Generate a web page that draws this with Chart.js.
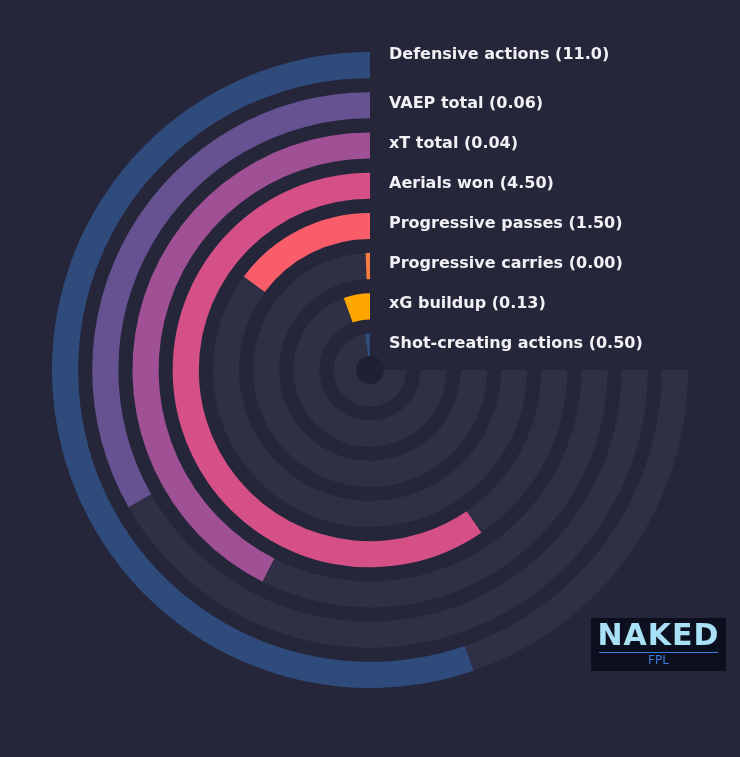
<!DOCTYPE html>
<html><head><meta charset="utf-8">
<script src="https://cdn.jsdelivr.net/npm/chart.js@4"></script>
<style>
html,body{margin:0;padding:0;background:#25263a;}
#wrap{position:relative;width:740px;height:757px;}
#logo{position:absolute;left:591px;top:618px;width:135px;height:53px;background:#0b0f1e;font-family:"DejaVu Sans";text-align:center;}
#logo .a{color:#a8e0f5;font-weight:bold;font-size:30px;line-height:34px;letter-spacing:1px;}
#logo .b{color:#3a7bd5;font-size:12px;line-height:14px;border-top:1px solid #3a7bd5;margin:0 8px;}
</style></head><body>
<div id="wrap"><canvas id="c" width="740" height="757"></canvas>
<div id="logo"><div class="a">NAKED</div><div class="b">FPL</div></div></div>
<script>
const metrics = ["Defensive actions","VAEP total","xT total","Aerials won","Progressive passes","Progressive carries","xG buildup","Shot-creating actions"];
const rawValues = ["11.0","0.06","0.04","4.50","1.50","0.00","0.13","0.50"];
const fractions = [0.737,0.443,0.567,0.794,0.198,0.008,0.074,0.03];
const colors = ["#2f4b7c","#665191","#a05195","#d45087","#f95d6a","#ff7c43","#ffa600","#2f4b7c"];
const labelY = [55,104,144,184,224,264,304,344];
const track = "#2f3045";

const datasets = [];
metrics.forEach((m,i)=>{
  datasets.push({data:[1-fractions[i],fractions[i]],backgroundColor:[track,colors[i]],borderWidth:0,weight:26});
  if(i<metrics.length-1) datasets.push({data:[1],backgroundColor:["rgba(0,0,0,0)"],borderWidth:0,weight:14});
});

const labelPlugin = {
  id:'lbl',
  afterDraw(chart){
    const ctx=chart.ctx;
    ctx.save();
    ctx.fillStyle="#1f2033";
    ctx.beginPath();ctx.arc(370,370,14,0,Math.PI*2);ctx.fill();
    ctx.font="bold 16px 'DejaVu Sans'";
    ctx.fillStyle="#f0f0f5";
    ctx.textBaseline="middle";
    metrics.forEach((m,i)=>ctx.fillText(m+" ("+rawValues[i]+")",389,labelY[i]));
    ctx.restore();
  }
};

new Chart(document.getElementById('c'),{
  type:'doughnut',
  data:{labels:["rest","value"],datasets},
  options:{
    responsive:false,animation:false,
    rotation:90,circumference:270,
    radius:318,cutout:12,
    layout:{padding:{bottom:17}},
    plugins:{legend:{display:false},tooltip:{enabled:false}}
  },
  plugins:[labelPlugin]
});
</script>
</body></html>
